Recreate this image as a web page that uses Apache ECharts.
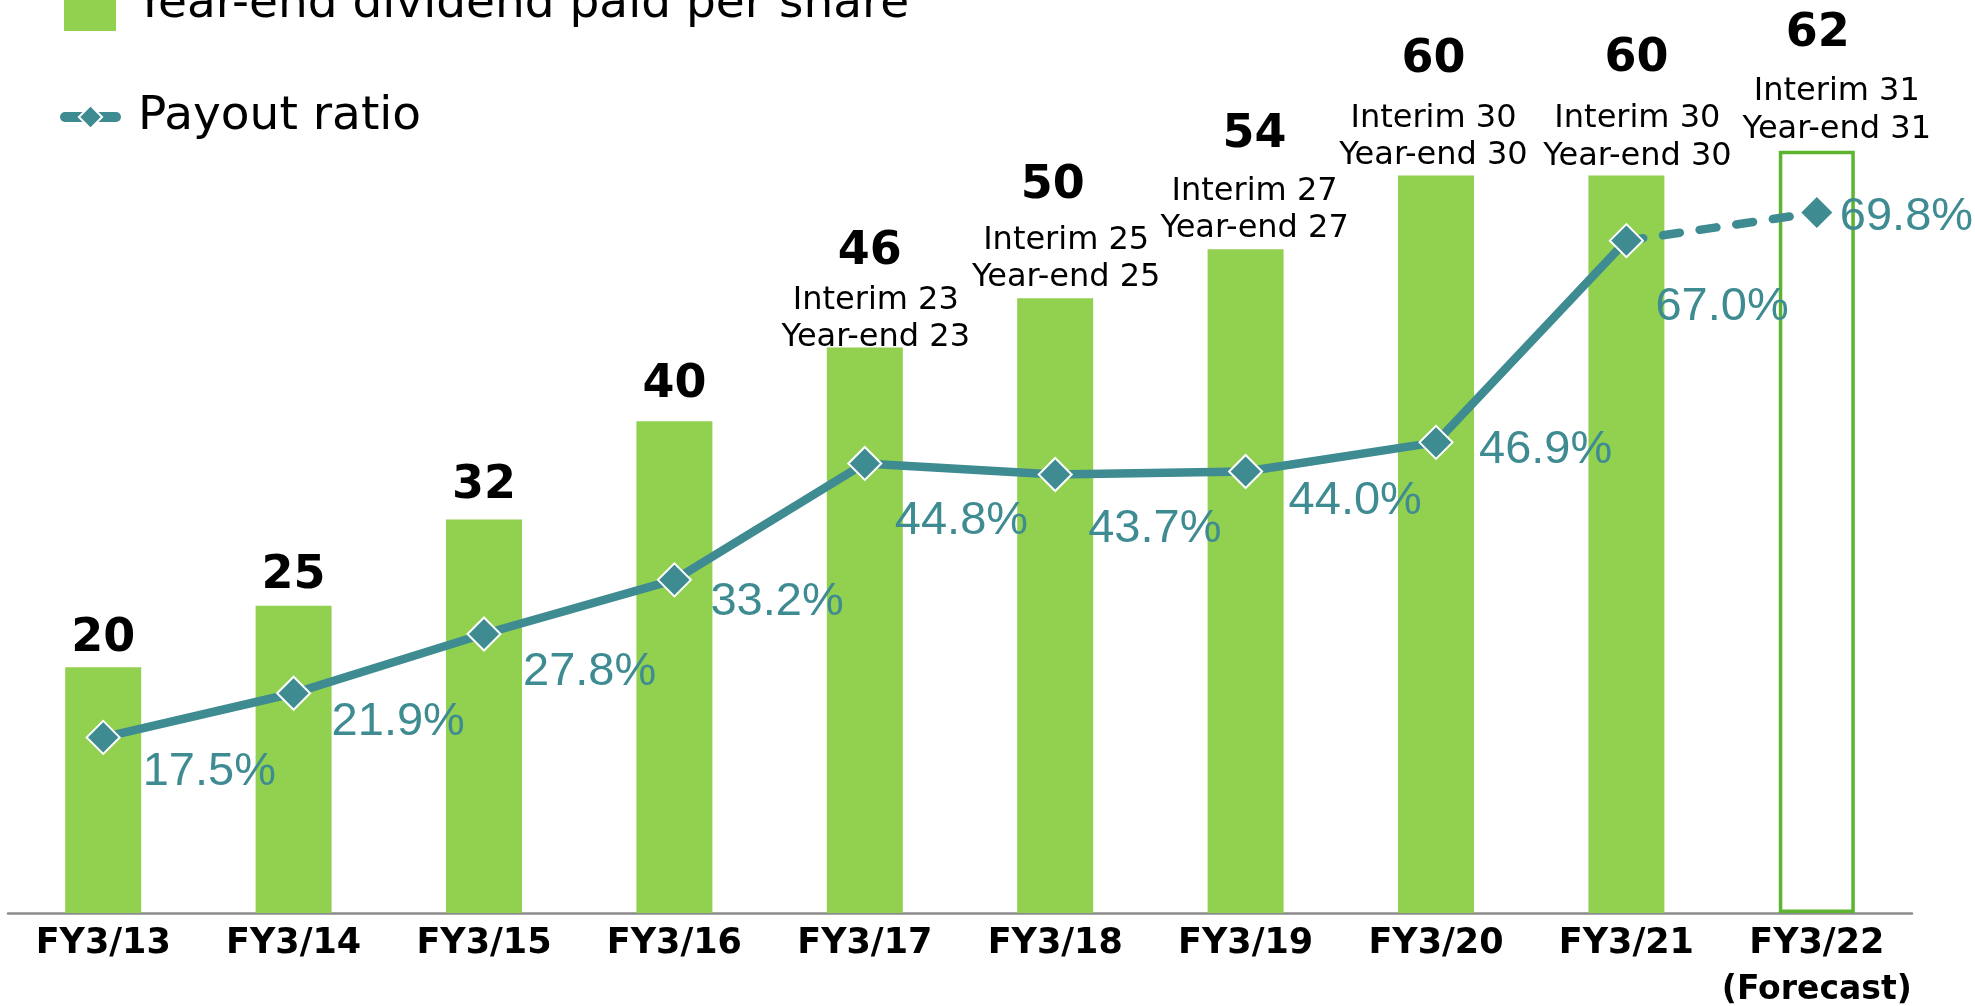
<!DOCTYPE html>
<html>
<head>
<meta charset="utf-8">
<script src="https://cdn.jsdelivr.net/npm/echarts@6/dist/echarts.min.js"></script>
<style>
html,body{margin:0;padding:0;background:#fff;}
#c{width:1975px;height:1006px;}
</style>
</head>
<body>
<div id="c"></div>
<script>
// ---- data ----
const categories = ['FY3/13','FY3/14','FY3/15','FY3/16','FY3/17','FY3/18','FY3/19','FY3/20','FY3/21','FY3/22\n(Forecast)'];
const dividend = [20, 25, 32, 40, 46, 50, 54, 60, 60, 62];
const interim  = [null, null, null, null, 23, 25, 27, 30, 30, 31];
const yearEnd  = [null, null, null, null, 23, 25, 27, 30, 30, 31];
const payout   = [17.5, 21.9, 27.8, 33.2, 44.8, 43.7, 44.0, 46.9, 67.0, 69.8];
const forecastIndex = 9;
const barSeriesName = 'Year-end dividend paid per share';
const lineSeriesName = 'Payout ratio';

// ---- layout (label placement) ----
const valueLineHeight = [56, 56, 56, 56, 58.5, 72, 76, 80, 82, 78];
const barLabelDistance = [0, 1.5, 5.5, 8, -9, 1.5, 1.5, 0.5, 0, 2.5];
const valueShiftX = [0, 0, 0, 0, 5, -2.5, 9, -2.5, 10, 1];
const subShiftX   = [0, 0, 0, 0, 11, 11, 9, -2.5, 11, 20];
const pctOffset = [[39.5,34.5],[38,28.5],[39,38.5],[36,22],[30,58],[33,54.5],[43,29.5],[43,7.5],[29,66],[23,4]];

const FONT = "'DejaVu Sans', Verdana, sans-serif";
const PFONT = "'Liberation Sans', Arial, sans-serif";
const TEAL = '#3e8b92';
const GREEN = '#92d050';
const BORDER_GREEN = '#5db42e';

function shiftPad(dx) {
  return dx >= 0 ? [0, 0, 0, 2 * dx] : [0, -2 * dx, 0, 0];
}

const barData = dividend.map((v, i) => {
  const split = interim[i] != null;
  const item = {
    value: v,
    label: {
      distance: barLabelDistance[i],
      formatter: split ? `{v|${v}}\n{s|Interim ${interim[i]}}\n{s|Year-end ${yearEnd[i]}}` : `{v|${v}}`,
      rich: {
        v: {fontFamily: FONT, fontSize: 46, fontWeight: 'bold', color: '#000', lineHeight: valueLineHeight[i], align: 'center', padding: shiftPad(valueShiftX[i])},
        s: {fontFamily: FONT, fontSize: 32, color: '#000', lineHeight: 37.5, align: 'center', padding: shiftPad(subShiftX[i])}
      }
    }
  };
  if (i === forecastIndex) {
    item.itemStyle = {color: 'rgba(0,0,0,0)', borderColor: BORDER_GREEN, borderWidth: 3.5};
  }
  return item;
});

const solidData = payout.map((v, i) => i < forecastIndex ? {value: v, label: {offset: pctOffset[i]}} : '-');
const dashedData = payout.map((v, i) => {
  if (i === forecastIndex) return {value: v, label: {show: true, offset: pctOffset[i]}, itemStyle: {borderWidth: 0}, symbolSize: 31};
  if (i === forecastIndex - 1) return {value: v, symbol: 'none', label: {show: false}};
  return '-';
});

const pctLabel = {
  show: true,
  position: 'inside',
  align: 'left',
  verticalAlign: 'middle',
  color: TEAL,
  fontFamily: PFONT,
  fontSize: 47,
  formatter: p => Number(p.value).toFixed(1) + '%'
};

const chart = echarts.init(document.getElementById('c'), null, {renderer: 'canvas'});
chart.setOption({
  animation: false,
  backgroundColor: '#fff',
  grid: {left: 8, right: 63, top: 50, bottom: 93, containLabel: false, outerBoundsMode: 'none'},
  legend: [
    {
      data: [{name: barSeriesName, icon: 'rect'}],
      left: 64, top: -21, orient: 'vertical', padding: 0,
      itemWidth: 52, itemHeight: 52, selectedMode: false,
      textStyle: {fontFamily: FONT, fontSize: 47, color: '#000', lineHeight: 50, padding: [0, 0, 0, 14.5]}
    },
    {
      data: [{name: lineSeriesName}],
      left: 60, top: 92, orient: 'vertical', padding: 0,
      itemWidth: 51, itemHeight: 29, selectedMode: false,
      lineStyle: {width: 10, cap: 'round', type: 'solid'},
      textStyle: {fontFamily: FONT, fontSize: 47, color: '#000', lineHeight: 50, padding: [0, 0, 0, 17]}
    }
  ],
  xAxis: {
    type: 'category',
    data: categories,
    axisLine: {show: true, lineStyle: {color: '#8c8c8c', width: 2.5}},
    axisTick: {show: false},
    splitLine: {show: false},
    axisLabel: {
      interval: 0, margin: 7, fontFamily: FONT, fontSize: 35, fontWeight: 'bold', color: '#000', lineHeight: 47,
      formatter: v => v.split('\n').map((t, i) => i ? `{f|${t}}` : t).join('\n'),
      rich: {f: {fontFamily: FONT, fontSize: 33, fontWeight: 'bold', color: '#000', lineHeight: 47}}
    }
  },
  yAxis: [
    {type: 'value', min: 0, max: 70.2, show: false, splitLine: {show: false}},
    {type: 'value', min: 0, max: 86, show: false, splitLine: {show: false}}
  ],
  series: [
    {
      name: barSeriesName,
      type: 'bar',
      barWidth: 76,
      z: 2,
      itemStyle: {color: GREEN},
      label: {show: true, position: 'top'},
      data: barData
    },
    {
      name: lineSeriesName,
      type: 'line',
      yAxisIndex: 1,
      z: 4,
      symbol: 'diamond',
      symbolSize: 33,
      lineStyle: {color: TEAL, width: 8.5},
      itemStyle: {color: TEAL, borderColor: '#fff', borderWidth: 2},
      label: pctLabel,
      data: solidData
    },
    {
      name: lineSeriesName,
      type: 'line',
      yAxisIndex: 1,
      z: 3,
      symbol: 'diamond',
      symbolSize: 33,
      lineStyle: {color: TEAL, width: 8.5, type: [17, 20], cap: 'round'},
      itemStyle: {color: TEAL, borderColor: '#fff', borderWidth: 0},
      label: pctLabel,
      data: dashedData
    }
  ]
});
</script>
</body>
</html>
